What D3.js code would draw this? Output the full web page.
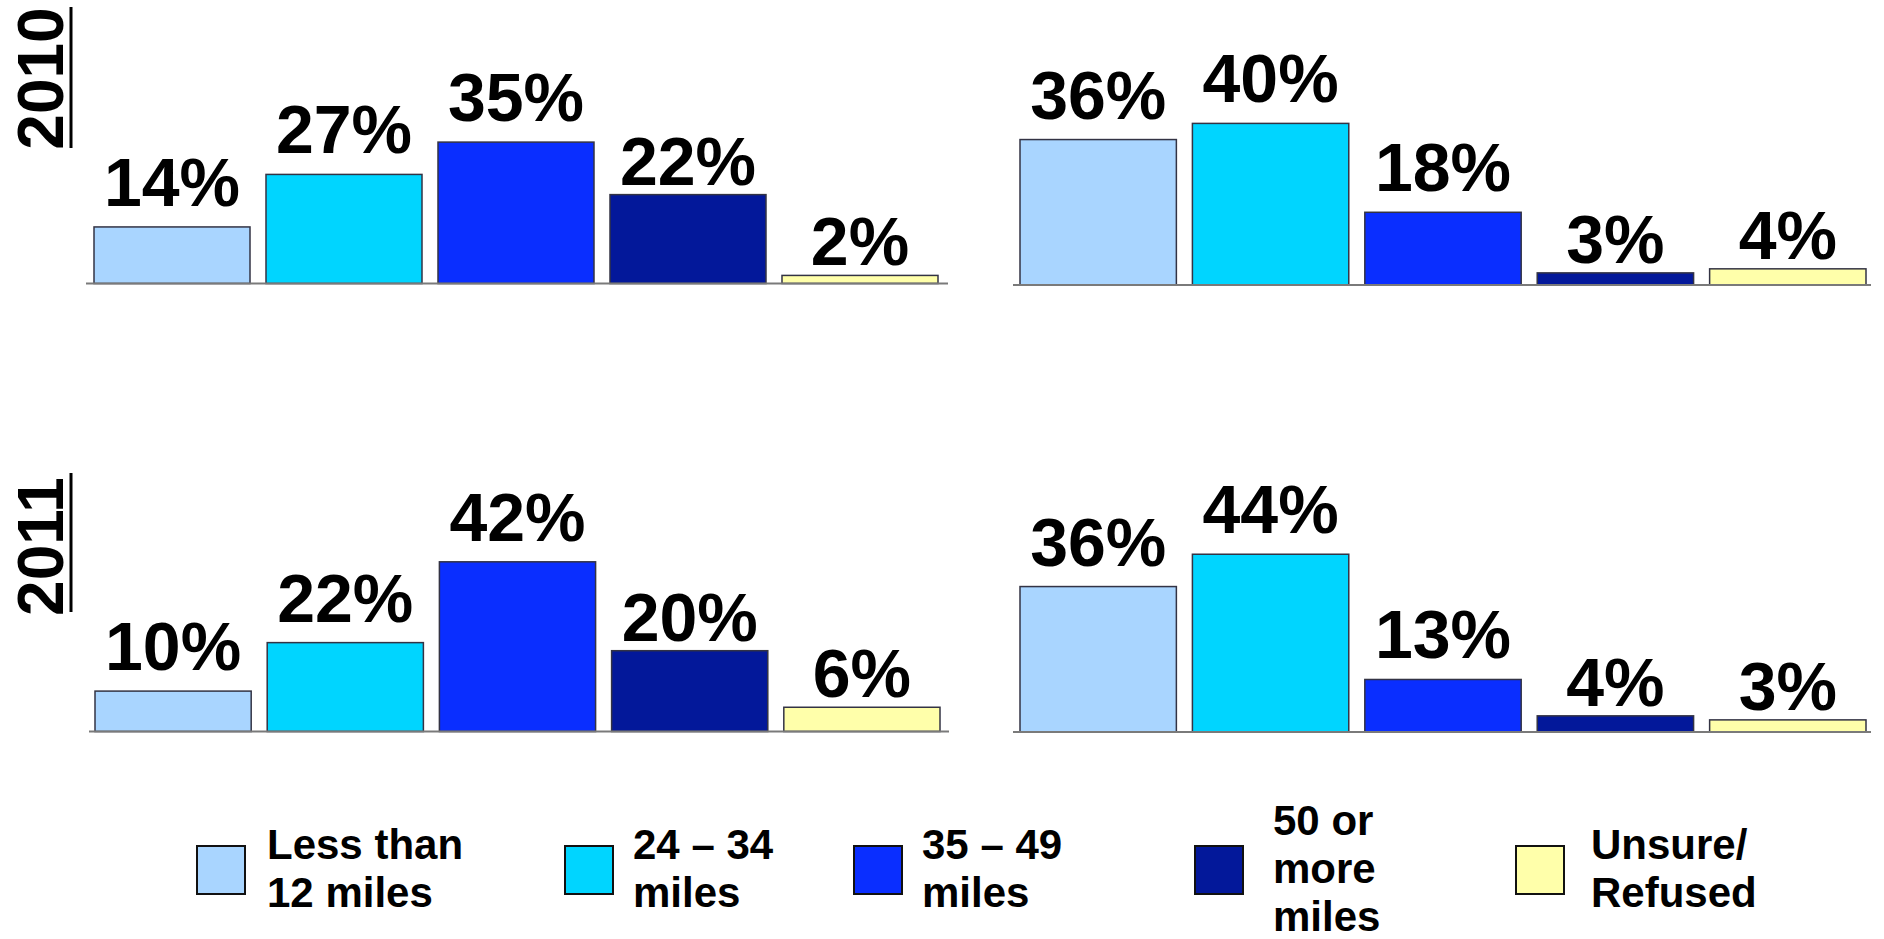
<!DOCTYPE html>
<html><head><meta charset="utf-8">
<script src="https://cdn.jsdelivr.net/npm/d3@7"></script>
<style>
html,body{margin:0;padding:0;background:#fff;}
svg{display:block;font-family:"Liberation Sans",Arial,sans-serif;font-weight:bold;}
</style></head>
<body>
<svg id="chart" width="1884" height="939"></svg>
<script>
const categories = ["Less than 12 miles","24 – 34 miles","35 – 49 miles","50 or more miles","Unsure/Refused"];
const legendLines = [["Less than","12 miles"],["24 – 34","miles"],["35 – 49","miles"],["50 or","more","miles"],["Unsure/","Refused"]];
const colors = ["#A9D5FF","#00D5FF","#0A2EFF","#03189A","#FFFFAA"];
const years = ["2010","2011"];
const values2010Left  = [14,27,35,22,2];
const values2010Right = [36,40,18,3,4];
const values2011Left  = [10,22,42,20,6];
const values2011Right = [36,44,13,4,3];

// label gap above bar top (style), per category column
const labelGap = [21,21,21,10,10];

const svg = d3.select("#chart");

const panels = [
  {vals: values2010Left,  bx:[94,938],   ax:[86,948],   base:283.5},
  {vals: values2010Right, bx:[1020,1866], ax:[1013,1871], base:285},
  {vals: values2011Left,  bx:[95,940],   ax:[89,949],   base:731.5},
  {vals: values2011Right, bx:[1020,1866], ax:[1013,1871], base:732}
];

panels.forEach(p => {
  const x = d3.scaleBand().domain(categories).range(p.bx).paddingInner(0.093).paddingOuter(0);
  const y = d3.scaleLinear().domain([0,50]).range([p.base, p.base - 202]);
  const g = svg.append("g");
  g.selectAll("rect").data(p.vals).join("rect")
    .attr("x",(d,i)=>x(categories[i]))
    .attr("y",d=>y(d))
    .attr("width",x.bandwidth())
    .attr("height",d=>y(0)-y(d))
    .attr("fill",(d,i)=>colors[i])
    .attr("stroke","#333344").attr("stroke-width",1.5);
  g.append("line").attr("x1",p.ax[0]).attr("x2",p.ax[1]).attr("y1",y(0)).attr("y2",y(0))
    .attr("stroke","#7a7a7a").attr("stroke-width",2);
  g.selectAll("text").data(p.vals).join("text")
    .attr("x",(d,i)=>x(categories[i])+x.bandwidth()/2)
    .attr("y",(d,i)=>y(d)-labelGap[i])
    .attr("text-anchor","middle")
    .attr("font-size",68)
    .attr("fill","#000")
    .text(d=>d+"%");
});

// Year labels
const yearPos = [{cy:78.5, y0:7, y1:148},{cy:546.5, y0:473, y1:612}];
years.forEach((yr,i)=>{
  const p = yearPos[i];
  svg.append("text")
    .attr("transform",`translate(63,${p.cy}) rotate(-90)`)
    .attr("text-anchor","middle")
    .attr("font-size",64)
    .attr("fill","#000")
    .text(yr);
  svg.append("line").attr("x1",71).attr("x2",71).attr("y1",p.y0).attr("y2",p.y1)
    .attr("stroke","#000").attr("stroke-width",3);
});

// Legend
const legX = [197,565,854,1195,1516];
const legTextX = [267,633,922,1273,1591];
const swCy = 870;
categories.forEach((c,i)=>{
  const g = svg.append("g");
  g.append("rect").attr("x",legX[i]).attr("y",swCy-24).attr("width",48).attr("height",48)
    .attr("fill",colors[i]).attr("stroke","#111").attr("stroke-width",2);
  const lines = legendLines[i];
  const lh = 48;
  const t = g.append("text").attr("font-size",42).attr("fill","#000");
  lines.forEach((ln,j)=>{
    const cyLine = swCy + (j - (lines.length-1)/2)*lh;
    t.append("tspan").attr("x",legTextX[i]).attr("y",cyLine+13).text(ln);
  });
});
</script>
</body></html>
